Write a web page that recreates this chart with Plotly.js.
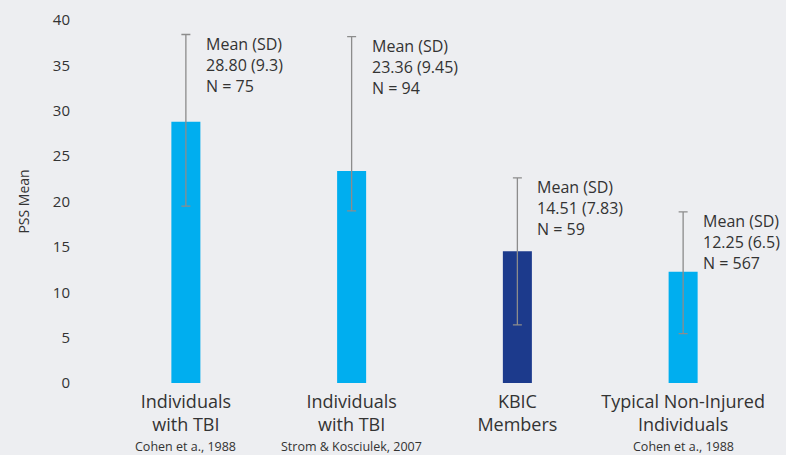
<!DOCTYPE html>
<html>
<head>
<meta charset="utf-8">
<script src="https://cdn.plot.ly/plotly-3.0.1.min.js"></script>
<style>
  html, body { margin: 0; padding: 0; background: #edeef1; }
  #chart { width: 786px; height: 455px; }
</style>
</head>
<body>
<div id="chart"></div>
<script>
// ---- data ----
const groupLabels = ['Individuals<br>with TBI', 'Individuals<br>with TBI', 'KBIC<br>Members', 'Typical Non-Injured<br>Individuals'];
const sources = ['Cohen et a., 1988', 'Strom & Kosciulek, 2007', '', 'Cohen et a., 1988'];
const positions = [0, 1, 2, 3];
const means = [28.80, 23.36, 14.51, 12.25];
const sds = ['9.3', '9.45', '7.83', '6.5'];
const ns = [75, 94, 59, 567];
const errUp = [9.6, 14.8, 8.1, 6.6];
const errDown = [9.3, 4.4, 8.1, 6.8];
const barColors = ['#00aeef', '#00aeef', '#1c3a8c', '#00aeef'];
const yTicks = [0, 5, 10, 15, 20, 25, 30, 35, 40];

const font = 'Open Sans, sans-serif';
const textColor = '#333333';

const trace = {
  type: 'bar',
  x: positions,
  y: means,
  width: 0.175,
  marker: { color: barColors, line: { width: 0 } },
  error_y: {
    type: 'data',
    symmetric: false,
    array: errUp,
    arrayminus: errDown,
    color: '#8c8c8c',
    thickness: 1.3,
    width: 4.5
  },
  hoverinfo: 'none'
};

const annotations = [];
positions.forEach((p, i) => {
  annotations.push({
    x: p, y: means[i] + errUp[i],
    xref: 'x', yref: 'y',
    xanchor: 'left', yanchor: 'top',
    xshift: 18, yshift: 4,
    align: 'left',
    showarrow: false,
    text: 'Mean (SD)<br>' + means[i].toFixed(2) + ' (' + sds[i] + ')<br>N = ' + ns[i],
    font: { family: font, size: 16, color: textColor }
  });
  if (sources[i]) {
    annotations.push({
      x: p, y: 0,
      xref: 'x', yref: 'paper',
      xanchor: 'center', yanchor: 'middle',
      yshift: -63.8,
      borderpad: 0,
      showarrow: false,
      text: sources[i],
      font: { family: font, size: 12.5, color: textColor }
    });
  }
});

const layout = {
  width: 786,
  height: 455,
  paper_bgcolor: '#edeef1',
  plot_bgcolor: '#edeef1',
  margin: { l: 102.5, r: 19.5, t: 20, b: 72.3 },
  showlegend: false,
  font: { family: font, color: textColor },
  xaxis: {
    range: [-0.5, 3.5],
    tickvals: positions,
    ticktext: groupLabels,
    showgrid: false,
    zeroline: false,
    showline: false,
    ticks: '',
    ticklabelstandoff: 6,
    tickfont: { family: font, size: 18, color: textColor },
    fixedrange: true
  },
  yaxis: {
    range: [0, 40],
    tickvals: yTicks,
    showgrid: false,
    zeroline: false,
    showline: false,
    ticks: '',
    ticklabelstandoff: 32,
    tickfont: { family: font, size: 15, color: textColor },
    title: { text: 'PSS Mean', font: { family: font, size: 14, color: textColor }, standoff: 19 },
    fixedrange: true
  },
  annotations: annotations
};

Plotly.newPlot('chart', [trace], layout, { displayModeBar: false, staticPlot: true });
</script>
</body>
</html>
